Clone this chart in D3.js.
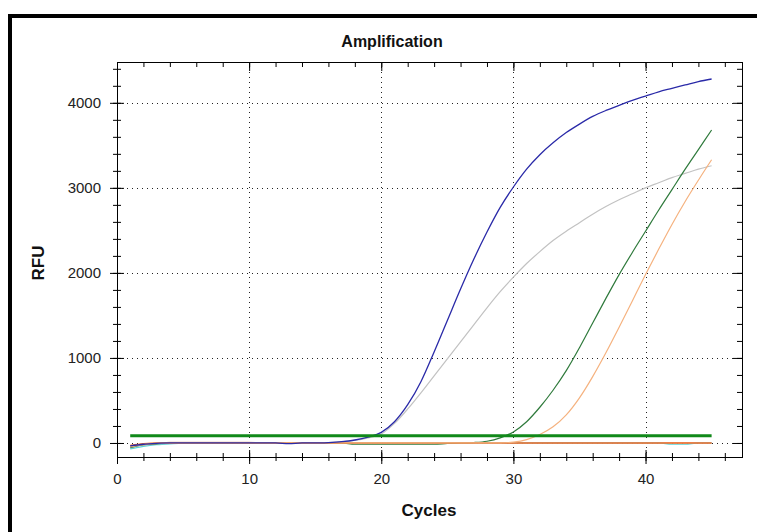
<!DOCTYPE html>
<html>
<head>
<meta charset="utf-8">
<script src="https://cdn.jsdelivr.net/npm/d3@7"></script>
<style>
  body { margin: 0; background: #fff; }
  svg { display: block; }
  .tick text { font-family: "Liberation Sans", Arial, sans-serif; font-size: 15px; fill: #222; }
  .ttl { font-family: "Liberation Sans Narrow", "Liberation Sans", Arial, sans-serif; font-weight: bold; fill: #111; }
</style>
</head>
<body>
<div id="chart"></div>
<script>
// amplification data, RFU per cycle
var cycles = [1, 2, 3, 4, 5, 6, 7, 8, 9, 10, 11, 12, 13, 14, 15, 16, 17, 18, 19, 20, 21, 22, 23,
    24, 25, 26, 27, 28, 29, 30, 31, 32, 33, 34, 35, 36, 37, 38, 39, 40, 41, 42, 43, 44, 45];

var blueRFU = [-35, -15, -5, 0, 0, 0, 0, 0, 0, 0, 0, 0, -8, 0, 0, 5, 15, 35, 70, 125, 250, 450, 720,
    1070, 1440, 1810, 2160, 2480, 2770, 3010, 3220, 3390, 3530, 3650, 3750, 3840, 3910, 3970, 4030,
    4080, 4130, 4170, 4210, 4250, 4280];
var grayRFU = [-50, -25, -10, -5, 0, 0, 0, 0, 0, 0, 0, 0, 0, 0, 0, 5, 15, 30, 60, 105, 230, 400, 590,
    790, 990, 1190, 1390, 1590, 1780, 1950, 2110, 2250, 2380, 2490, 2590, 2690, 2780, 2860, 2930,
    3000, 3060, 3120, 3170, 3220, 3260];
var greenRFU = [-55, -20, -10, 0, 0, 0, 0, 0, 0, 0, 0, 0, 0, 0, 0, 0, 0, -15, -15, -15, -15, -15, -15,
    -15, -5, 0, 5, 20, 60, 130, 250, 420, 620, 850, 1120, 1410, 1700, 1980, 2240,
    2490, 2740, 2980, 3220, 3450, 3680];
var orangeRFU = [-45, -20, -5, 0, 0, 0, 0, 0, 0, 0, 0, 0, 0, 0, 0, 0, 0, 0, 0, 0, 0, 0, 0,
    0, 0, 0, 0, 0, 0, 10, 40, 100, 190, 330, 530, 780, 1060, 1360, 1670,
    1980, 2280, 2570, 2840, 3090, 3330];
// flat (negative) wells
var tanRFU = [-40, -15, -5, 5, 5, 5, 5, 5, 5, 5, 0, 0, 0, 0, 0, 0, 0, 0, 0, 0, 0, 0, 0,
    0, 0, 0, 0, 0, 0, 0, 0, 0, 0, 0, 0, 0, 0, 0, 0, 0, 0, 0, 0, 0, 0];
var cyanRFU = [-70, -40, -20, -10, -5, 0, 0, 0, 0, 0, 0, 0, 0, 0, 0, 0, 0, 0, 0, 0, 0, 0, 0,
    0, 0, 0, 0, 0, 0, 0, 0, 0, 0, 0, 0, 0, 0, 0, 0, 0, 0, -15, -15, 0, 0];
var redRFU = [-30, -10, 0, 0, 0, 0, 0, 0, 0, 0, 0, 0, 0, 0, 0, 0, 0, 0, 0, 0, 0, 0, 0,
    0, 0, 0, 0, 0, 0, 0, 0, 0, 0, 0, 0, 0, 0, 0, 0, 0, 0, 0, 0, 0, 0];
var thresholdRFU = 85;

var xTicks = [0, 10, 20, 30, 40];
var yTicks = [0, 1000, 2000, 3000, 4000];

var width = 757, height = 532;
var plotL = 117, plotR = 742, plotT = 62, plotB = 457;

var svg = d3.select("#chart").append("svg")
    .attr("width", width)
    .attr("height", height);

svg.append("rect").attr("width", width).attr("height", height).attr("fill", "#fff");

// window frame
svg.append("rect").attr("x", 8).attr("y", 14).attr("width", width - 8).attr("height", 4).attr("fill", "#000");
svg.append("rect").attr("x", 8).attr("y", 14).attr("width", 4).attr("height", height - 14).attr("fill", "#000");

var x = d3.scaleLinear().domain([0, 47.3]).range([plotL, plotR]);
var y = d3.scaleLinear().domain([-165, 4480]).range([plotB, plotT]);

var xMinor = d3.range(0, 47, 2);
var yMinor = d3.range(0, 4401, 200);

// dotted grid
svg.append("g").selectAll("line")
    .data(xTicks.slice(1))
    .enter().append("line")
    .attr("x1", function (d) { return Math.round(x(d)) + 0.5; })
    .attr("x2", function (d) { return Math.round(x(d)) + 0.5; })
    .attr("y1", plotT).attr("y2", plotB)
    .attr("stroke", "#222").attr("stroke-dasharray", "1,4");
svg.append("g").selectAll("line")
    .data(yTicks)
    .enter().append("line")
    .attr("y1", function (d) { return Math.round(y(d)) + 0.5; })
    .attr("y2", function (d) { return Math.round(y(d)) + 0.5; })
    .attr("x1", plotL).attr("x2", plotR)
    .attr("stroke", "#222").attr("stroke-dasharray", "1,4");

function noDomain(g) { g.select(".domain").remove(); }

// bottom axis, ticks cross the line
svg.append("g").attr("transform", "translate(0," + plotB + ")")
    .call(d3.axisBottom(x).tickValues(xTicks).tickSize(7).tickPadding(9).tickFormat(d3.format("d")))
    .call(noDomain);
svg.append("g").attr("transform", "translate(0," + plotB + ")")
    .call(d3.axisTop(x).tickValues(xTicks).tickSize(7).tickFormat(""))
    .call(noDomain);
svg.append("g").attr("transform", "translate(0," + plotB + ")")
    .call(d3.axisBottom(x).tickValues(xMinor).tickSize(4).tickFormat(""))
    .call(noDomain);
svg.append("g").attr("transform", "translate(0," + plotB + ")")
    .call(d3.axisTop(x).tickValues(xMinor).tickSize(4).tickFormat(""))
    .call(noDomain);

// left axis
svg.append("g").attr("transform", "translate(" + plotL + ",0)")
    .call(d3.axisLeft(y).tickValues(yTicks).tickSize(7).tickPadding(9).tickFormat(d3.format("d")))
    .call(noDomain);
svg.append("g").attr("transform", "translate(" + plotL + ",0)")
    .call(d3.axisRight(y).tickValues(yTicks).tickSize(7).tickFormat(""))
    .call(noDomain);
svg.append("g").attr("transform", "translate(" + plotL + ",0)")
    .call(d3.axisLeft(y).tickValues(yMinor).tickSize(4).tickFormat(""))
    .call(noDomain);
svg.append("g").attr("transform", "translate(" + plotL + ",0)")
    .call(d3.axisRight(y).tickValues(yMinor).tickSize(4).tickFormat(""))
    .call(noDomain);

// top and right, inward only
svg.append("g").attr("transform", "translate(0," + plotT + ")")
    .call(d3.axisBottom(x).tickValues(xTicks).tickSize(9).tickFormat(""))
    .call(noDomain);
svg.append("g").attr("transform", "translate(0," + plotT + ")")
    .call(d3.axisBottom(x).tickValues(xMinor).tickSize(5).tickFormat(""))
    .call(noDomain);
svg.append("g").attr("transform", "translate(" + plotR + ",0)")
    .call(d3.axisLeft(y).tickValues(yTicks).tickSize(9).tickFormat(""))
    .call(noDomain);
svg.append("g").attr("transform", "translate(" + plotR + ",0)")
    .call(d3.axisLeft(y).tickValues(yMinor).tickSize(5).tickFormat(""))
    .call(noDomain);

svg.selectAll(".tick line").attr("stroke", "#000");

// plot frame
svg.append("rect")
    .attr("x", plotL + 0.5).attr("y", plotT + 0.5)
    .attr("width", plotR - plotL).attr("height", plotB - plotT)
    .attr("fill", "none").attr("stroke", "#000");

// curves
var series = [
    { name: "tan", values: tanRFU, color: "#e2a585", w: 1.5 },
    { name: "cyan", values: cyanRFU, color: "#5fd3d8", w: 1.2 },
    { name: "gray", values: grayRFU, color: "#c2c2c2", w: 1.2 },
    { name: "green", values: greenRFU, color: "#2f7a3c", w: 1.2 },
    { name: "red", values: redRFU, color: "#f26d2c", w: 1.5 },
    { name: "orange", values: orangeRFU, color: "#f5b27f", w: 1.2 },
    { name: "blue", values: blueRFU, color: "#2a2aa8", w: 1.3 }
];

var line = d3.line()
    .x(function (d) { return x(d[0]); })
    .y(function (d) { return y(d[1]); })
    .curve(d3.curveMonotoneX);

svg.append("g").selectAll("path")
    .data(series)
    .enter().append("path")
    .attr("d", function (d) { return line(d3.zip(cycles, d.values)); })
    .attr("fill", "none")
    .attr("stroke", function (d) { return d.color; })
    .attr("stroke-width", function (d) { return d.w; });

// threshold
svg.append("line")
    .attr("x1", x(cycles[0])).attr("x2", x(cycles[cycles.length - 1]))
    .attr("y1", y(thresholdRFU)).attr("y2", y(thresholdRFU))
    .attr("stroke", "#11891a").attr("stroke-width", 3);

// titles
svg.append("text").attr("class", "ttl")
    .attr("x", 392).attr("y", 47)
    .attr("text-anchor", "middle").attr("font-size", 16)
    .text("Amplification");
svg.append("text").attr("class", "ttl")
    .attr("x", 429).attr("y", 516)
    .attr("text-anchor", "middle").attr("font-size", 17)
    .text("Cycles");
svg.append("text").attr("class", "ttl")
    .attr("transform", "translate(44,263) rotate(-90)")
    .attr("text-anchor", "middle").attr("font-size", 17)
    .text("RFU");
</script>
</body>
</html>
